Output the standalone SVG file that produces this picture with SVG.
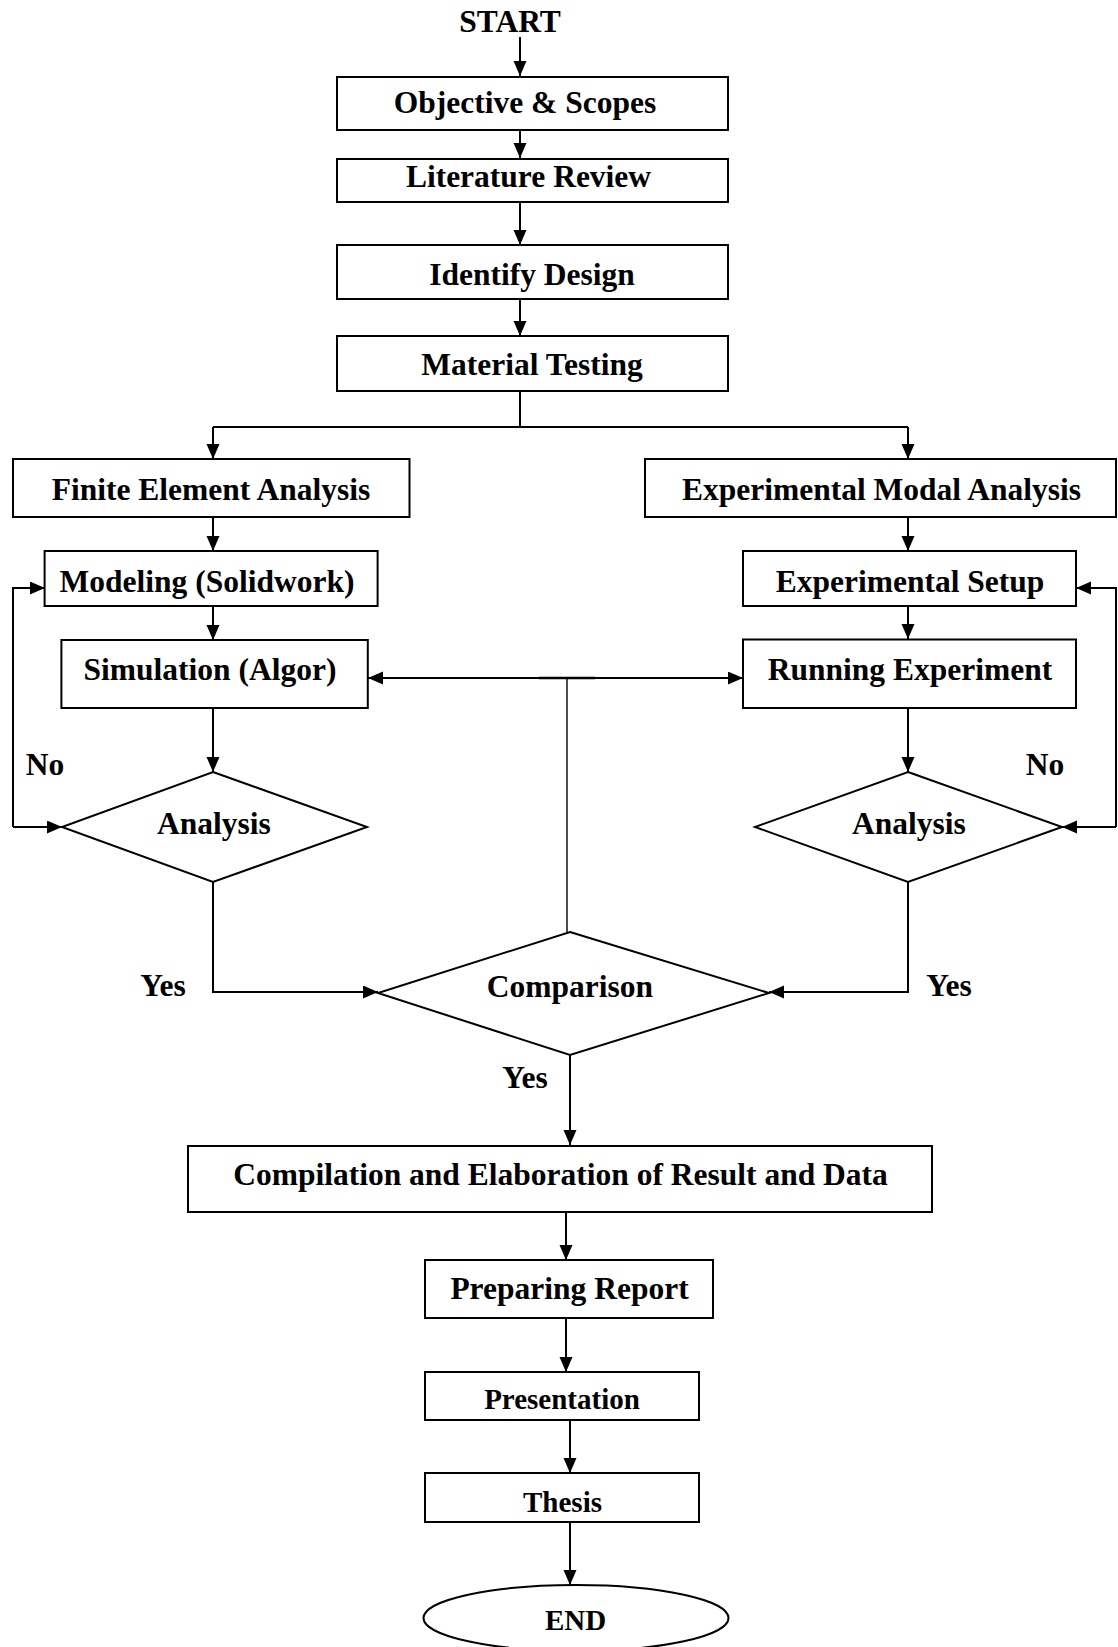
<svg xmlns="http://www.w3.org/2000/svg" width="1118" height="1647" viewBox="0 0 1118 1647">
<style>
.box{fill:#fff;stroke:#000;stroke-width:2}
.t{font-family:"Liberation Serif","Times New Roman",serif;font-weight:bold;font-size:31.5px;fill:#000;text-anchor:middle}
.s{font-size:29px}
.c{fill:none;stroke:#000;stroke-width:2}
.thin{fill:none;stroke:#000;stroke-width:1.4}
</style>
<defs>
<marker id="ah" markerUnits="userSpaceOnUse" markerWidth="16" markerHeight="14" refX="15" refY="6.5" orient="auto">
<path d="M0,0 L15,6.5 L0,13 z" fill="#000"/>
</marker>
</defs>
<rect width="1118" height="1647" fill="#fff"/>
<g id="connectors">
<path class="c" d="M520,37 V76" marker-end="url(#ah)"/>
<path class="c" d="M520,130 V158" marker-end="url(#ah)"/>
<path class="c" d="M520,202 V245" marker-end="url(#ah)"/>
<path class="c" d="M520,299 V336" marker-end="url(#ah)"/>
<path class="c" d="M520,391 V427 M213,427 H908"/>
<path class="c" d="M213,427 V459" marker-end="url(#ah)"/>
<path class="c" d="M908,427 V459" marker-end="url(#ah)"/>
<path class="c" d="M213,517 V551" marker-end="url(#ah)"/>
<path class="c" d="M908,517 V551" marker-end="url(#ah)"/>
<path class="c" d="M213,606 V640" marker-end="url(#ah)"/>
<path class="c" d="M908,606 V639" marker-end="url(#ah)"/>
<path class="c" d="M213,708 V772" marker-end="url(#ah)"/>
<path class="c" d="M908,708 V772" marker-end="url(#ah)"/>
<path class="c" d="M13,827 V588 H45" marker-end="url(#ah)"/>
<path class="c" d="M13,827 H62" marker-end="url(#ah)"/>
<path class="c" d="M1116,827 V588 H1076" marker-end="url(#ah)"/>
<path class="c" d="M1116,827 H1062" marker-end="url(#ah)"/>
<path class="c" d="M566,678 H368" marker-end="url(#ah)"/>
<path class="c" d="M566,678 H743" marker-end="url(#ah)"/>
<path d="M539,678 H595" stroke="#000" stroke-width="2.6" fill="none"/>
<path class="thin" d="M567,678 V932"/>
<path class="c" d="M213,882 V992 H378" marker-end="url(#ah)"/>
<path class="c" d="M908,882 V992 H769" marker-end="url(#ah)"/>
<path class="c" d="M570,1055 V1145" marker-end="url(#ah)"/>
<path class="c" d="M566,1212 V1260" marker-end="url(#ah)"/>
<path class="c" d="M566,1318 V1372" marker-end="url(#ah)"/>
<path class="c" d="M570,1420 V1473" marker-end="url(#ah)"/>
<path class="c" d="M570,1522 V1585" marker-end="url(#ah)"/>
</g>
<g id="start"><text class="t" x="510" y="32">START</text></g>
<g id="objective"><rect class="box" x="337" y="77" width="391" height="53"/><text class="t" x="525" y="113">Objective &amp; Scopes</text></g>
<g id="literature"><rect class="box" x="337" y="159" width="391" height="43"/><text class="t" x="528.5" y="187">Literature Review</text></g>
<g id="identify"><rect class="box" x="337" y="245" width="391" height="54"/><text class="t" x="532" y="285">Identify Design</text></g>
<g id="material"><rect class="box" x="337" y="336" width="391" height="55"/><text class="t" x="532" y="375">Material Testing</text></g>
<g id="fea"><rect class="box" x="13" y="459" width="396.5" height="58"/><text class="t" x="211" y="499.5">Finite Element Analysis</text></g>
<g id="ema"><rect class="box" x="645" y="459" width="471" height="58"/><text class="t" x="881.5" y="499.5">Experimental Modal Analysis</text></g>
<g id="modeling"><rect class="box" x="44.6" y="551" width="333" height="55"/><text class="t" x="207" y="592">Modeling (Solidwork)</text></g>
<g id="setup"><rect class="box" x="743" y="551" width="333" height="55"/><text class="t" x="910" y="592">Experimental Setup</text></g>
<g id="simulation"><rect class="box" x="61.4" y="640" width="306.4" height="68"/><text class="t" x="210" y="679.5">Simulation (Algor)</text></g>
<g id="running"><rect class="box" x="743" y="639.5" width="333" height="68.5"/><text class="t" x="910" y="679.5">Running Experiment</text></g>
<g id="analysis-left"><polygon class="box" points="213,772 367,827 213,882 62,827"/><text class="t" x="214" y="834">Analysis</text></g>
<g id="analysis-right"><polygon class="box" points="908,772 1062,827 908,882 755,827"/><text class="t" x="909" y="834">Analysis</text></g>
<g id="comparison"><polygon class="box" points="570,932 769,993 570,1055 378,993"/><text class="t" x="570" y="997">Comparison</text></g>
<g id="labels">
<text class="t" x="45" y="775">No</text>
<text class="t" x="1045" y="775">No</text>
<text class="t" x="163" y="996">Yes</text>
<text class="t" x="949" y="996">Yes</text>
<text class="t" x="525" y="1088">Yes</text>
</g>
<g id="compilation"><rect class="box" x="188" y="1146" width="744" height="66"/><text class="t" x="560.5" y="1185">Compilation and Elaboration of Result and Data</text></g>
<g id="preparing"><rect class="box" x="425" y="1260" width="288" height="58"/><text class="t" x="569.5" y="1299">Preparing Report</text></g>
<g id="presentation"><rect class="box" x="425" y="1372" width="274" height="48"/><text class="t s" x="562" y="1409">Presentation</text></g>
<g id="thesis"><rect class="box" x="425" y="1473" width="274" height="49"/><text class="t s" x="562.5" y="1511.5">Thesis</text></g>
<g id="end"><ellipse class="box" cx="576" cy="1618" rx="152.5" ry="33"/><text class="t s" x="575.5" y="1630">END</text></g>
</svg>
